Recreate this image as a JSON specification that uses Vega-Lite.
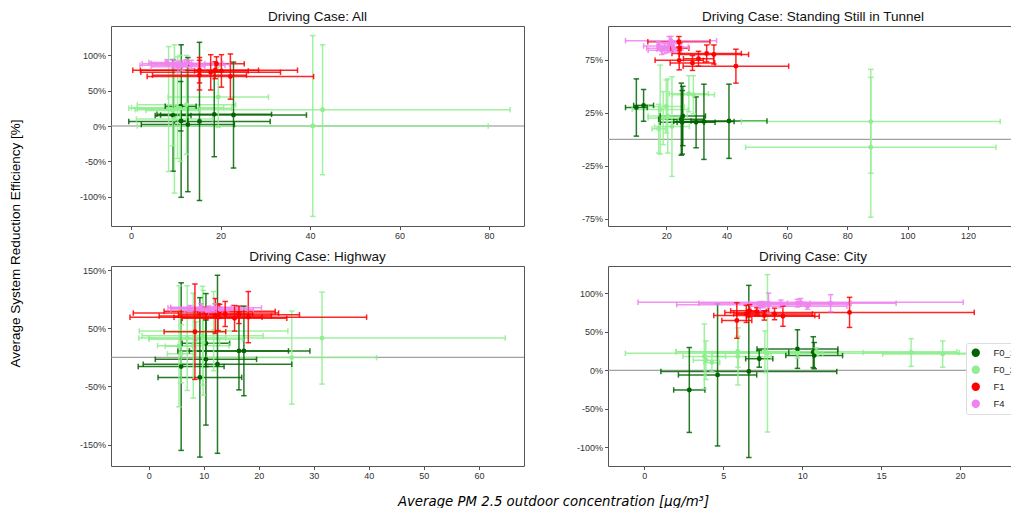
{
"$schema": "https://vega.github.io/schema/vega-lite/v6.json",
"autosize": {"type": "pad"},
"padding": {"left": 8, "top": 9, "right": -10, "bottom": 0},
"background": "white",
"datasets": {"pts": [
{"p":"All","g":"F0_1","x":15.3,"xlo":-0.5,"xhi":31.1,"y":0.065,"ylo":-1.055,"yhi":1.185},
{"p":"All","g":"F0_1","x":22.9,"xlo":6.6,"xhi":39.2,"y":0.155,"ylo":-0.595,"yhi":0.905},
{"p":"All","g":"F0_1","x":18.6,"xlo":5.8,"xhi":31.4,"y":0.165,"ylo":-0.435,"yhi":0.765},
{"p":"All","g":"F0_1","x":12.7,"xlo":2.3,"xhi":23.1,"y":0.02,"ylo":-0.93,"yhi":0.97},
{"p":"All","g":"F0_1","x":11.2,"xlo":9.7,"xhi":12.7,"y":0.07,"ylo":-1.01,"yhi":1.15},
{"p":"All","g":"F0_1","x":11.1,"xlo":7.65,"xhi":14.55,"y":0.28,"ylo":-0.07,"yhi":0.63},
{"p":"All","g":"F0_1","x":9.4,"xlo":5.4,"xhi":13.4,"y":0.15,"ylo":-0.64,"yhi":0.94},
{"p":"All","g":"F0_2","x":40.6,"xlo":1.4,"xhi":79.8,"y":0.0,"ylo":-1.28,"yhi":1.28},
{"p":"All","g":"F0_2","x":42.8,"xlo":0.9,"xhi":84.7,"y":0.23,"ylo":-0.69,"yhi":1.15},
{"p":"All","g":"F0_2","x":19.5,"xlo":8.3,"xhi":30.7,"y":0.41,"ylo":-0.02,"yhi":0.84},
{"p":"All","g":"F0_2","x":8.4,"xlo":1.4,"xhi":15.4,"y":0.24,"ylo":-0.645,"yhi":1.125},
{"p":"All","g":"F0_2","x":9.7,"xlo":1.2,"xhi":18.2,"y":0.1,"ylo":-0.95,"yhi":1.15},
{"p":"All","g":"F0_2","x":10.4,"xlo":0.1,"xhi":20.7,"y":0.26,"ylo":-0.46,"yhi":0.98},
{"p":"All","g":"F0_2","x":11.0,"xlo":-0.5,"xhi":22.5,"y":0.25,"ylo":-0.5,"yhi":1.0},
{"p":"All","g":"F0_2","x":12.4,"xlo":1.4,"xhi":23.4,"y":0.3,"ylo":-0.4,"yhi":1.0},
{"p":"All","g":"F0_2","x":9.3,"xlo":3.3,"xhi":15.3,"y":0.22,"ylo":-0.28,"yhi":0.72},
{"p":"All","g":"F1","x":15.3,"xlo":2.1,"xhi":28.5,"y":0.79,"ylo":0.61,"yhi":0.97},
{"p":"All","g":"F1","x":15.3,"xlo":4.8,"xhi":25.8,"y":0.72,"ylo":0.51,"yhi":0.93},
{"p":"All","g":"F1","x":17.8,"xlo":2.2,"xhi":33.4,"y":0.76,"ylo":0.51,"yhi":1.01},
{"p":"All","g":"F1","x":18.8,"xlo":0.4,"xhi":37.2,"y":0.79,"ylo":0.67,"yhi":0.91},
{"p":"All","g":"F1","x":20.2,"xlo":14.2,"xhi":26.2,"y":0.78,"ylo":0.55,"yhi":1.01},
{"p":"All","g":"F1","x":22.2,"xlo":3.6,"xhi":40.8,"y":0.7,"ylo":0.38,"yhi":1.02},
{"p":"All","g":"F1","x":19.1,"xlo":12.9,"xhi":25.3,"y":0.88,"ylo":0.78,"yhi":0.98},
{"p":"All","g":"F4","x":9.5,"xlo":2.5,"xhi":16.5,"y":0.88,"ylo":0.82,"yhi":0.94},
{"p":"All","g":"F4","x":11.5,"xlo":2.0,"xhi":21.0,"y":0.86,"ylo":0.79,"yhi":0.93},
{"p":"All","g":"F4","x":12.5,"xlo":4.5,"xhi":20.5,"y":0.89,"ylo":0.84,"yhi":0.94},
{"p":"All","g":"F4","x":10.5,"xlo":4.5,"xhi":16.5,"y":0.84,"ylo":0.76,"yhi":0.92},
{"p":"All","g":"F4","x":13.5,"xlo":5.0,"xhi":22.0,"y":0.87,"ylo":0.81,"yhi":0.93},
{"p":"All","g":"F4","x":8.0,"xlo":4.0,"xhi":12.0,"y":0.9,"ylo":0.86,"yhi":0.94},
{"p":"Tunnel","g":"F0_1","x":10.1,"xlo":6.5,"xhi":13.7,"y":0.3,"ylo":0.03,"yhi":0.57},
{"p":"Tunnel","g":"F0_1","x":12.5,"xlo":9.2,"xhi":15.8,"y":0.32,"ylo":0.17,"yhi":0.47},
{"p":"Tunnel","g":"F0_1","x":25.0,"xlo":17.5,"xhi":32.5,"y":0.19,"ylo":-0.15,"yhi":0.53},
{"p":"Tunnel","g":"F0_1","x":25.3,"xlo":18.0,"xhi":32.6,"y":0.16,"ylo":-0.14,"yhi":0.46},
{"p":"Tunnel","g":"F0_1","x":25.5,"xlo":18.0,"xhi":33.0,"y":0.22,"ylo":-0.06,"yhi":0.5},
{"p":"Tunnel","g":"F0_1","x":29.9,"xlo":23.6,"xhi":36.2,"y":0.16,"ylo":-0.08,"yhi":0.4},
{"p":"Tunnel","g":"F0_1","x":32.5,"xlo":22.5,"xhi":42.5,"y":0.167,"ylo":-0.19,"yhi":0.52},
{"p":"Tunnel","g":"F0_1","x":40.8,"xlo":28.2,"xhi":53.4,"y":0.173,"ylo":-0.18,"yhi":0.52},
{"p":"Tunnel","g":"F0_2","x":87.8,"xlo":44.9,"xhi":130.7,"y":0.167,"ylo":-0.32,"yhi":0.66},
{"p":"Tunnel","g":"F0_2","x":87.8,"xlo":46.3,"xhi":129.3,"y":-0.075,"ylo":-0.735,"yhi":0.585},
{"p":"Tunnel","g":"F0_2","x":18.0,"xlo":8.7,"xhi":27.3,"y":0.28,"ylo":-0.14,"yhi":0.7},
{"p":"Tunnel","g":"F0_2","x":20.0,"xlo":14.0,"xhi":26.0,"y":0.31,"ylo":0.06,"yhi":0.56},
{"p":"Tunnel","g":"F0_2","x":21.9,"xlo":16.1,"xhi":27.7,"y":0.12,"ylo":-0.35,"yhi":0.59},
{"p":"Tunnel","g":"F0_2","x":17.5,"xlo":15.3,"xhi":19.7,"y":0.1,"ylo":-0.13,"yhi":0.33},
{"p":"Tunnel","g":"F0_2","x":27.5,"xlo":21.0,"xhi":34.0,"y":0.43,"ylo":0.26,"yhi":0.6},
{"p":"Tunnel","g":"F0_2","x":29.0,"xlo":22.0,"xhi":36.0,"y":0.42,"ylo":0.24,"yhi":0.6},
{"p":"Tunnel","g":"F0_2","x":19.0,"xlo":14.0,"xhi":24.0,"y":0.2,"ylo":-0.05,"yhi":0.45},
{"p":"Tunnel","g":"F0_2","x":20.5,"xlo":14.0,"xhi":27.0,"y":0.22,"ylo":-0.13,"yhi":0.57},
{"p":"Tunnel","g":"F1","x":43.1,"xlo":25.6,"xhi":60.6,"y":0.69,"ylo":0.53,"yhi":0.85},
{"p":"Tunnel","g":"F1","x":24.3,"xlo":16.3,"xhi":32.3,"y":0.745,"ylo":0.655,"yhi":0.835},
{"p":"Tunnel","g":"F1","x":28.7,"xlo":21.3,"xhi":36.1,"y":0.72,"ylo":0.65,"yhi":0.79},
{"p":"Tunnel","g":"F1","x":30.7,"xlo":25.7,"xhi":35.7,"y":0.76,"ylo":0.69,"yhi":0.83},
{"p":"Tunnel","g":"F1","x":33.4,"xlo":21.9,"xhi":44.9,"y":0.81,"ylo":0.73,"yhi":0.89},
{"p":"Tunnel","g":"F1","x":35.8,"xlo":24.3,"xhi":47.3,"y":0.8,"ylo":0.71,"yhi":0.89},
{"p":"Tunnel","g":"F1","x":24.2,"xlo":13.9,"xhi":34.5,"y":0.92,"ylo":0.87,"yhi":0.97},
{"p":"Tunnel","g":"F1","x":24.5,"xlo":21.5,"xhi":27.5,"y":0.86,"ylo":0.81,"yhi":0.91},
{"p":"Tunnel","g":"F4","x":21.6,"xlo":6.5,"xhi":36.7,"y":0.93,"ylo":0.89,"yhi":0.97},
{"p":"Tunnel","g":"F4","x":17.5,"xlo":12.5,"xhi":22.5,"y":0.88,"ylo":0.84,"yhi":0.92},
{"p":"Tunnel","g":"F4","x":19.5,"xlo":13.5,"xhi":25.5,"y":0.86,"ylo":0.81,"yhi":0.91},
{"p":"Tunnel","g":"F4","x":21.0,"xlo":17.0,"xhi":25.0,"y":0.9,"ylo":0.83,"yhi":0.97},
{"p":"Tunnel","g":"F4","x":18.5,"xlo":14.0,"xhi":23.0,"y":0.84,"ylo":0.8,"yhi":0.88},
{"p":"Tunnel","g":"F4","x":20.5,"xlo":17.0,"xhi":24.0,"y":0.85,"ylo":0.82,"yhi":0.88},
{"p":"Tunnel","g":"F4","x":22.3,"xlo":17.3,"xhi":27.3,"y":0.87,"ylo":0.82,"yhi":0.92},
{"p":"Highway","g":"F0_1","x":5.9,"xlo":-1.9,"xhi":13.7,"y":-0.16,"ylo":-1.6,"yhi":1.28},
{"p":"Highway","g":"F0_1","x":9.3,"xlo":1.7,"xhi":16.9,"y":-0.345,"ylo":-1.715,"yhi":1.025},
{"p":"Highway","g":"F0_1","x":10.4,"xlo":6.1,"xhi":14.7,"y":0.24,"ylo":-0.16,"yhi":0.64},
{"p":"Highway","g":"F0_1","x":10.4,"xlo":1.2,"xhi":19.6,"y":-0.035,"ylo":-1.165,"yhi":1.095},
{"p":"Highway","g":"F0_1","x":12.5,"xlo":-1.0,"xhi":26.0,"y":-0.12,"ylo":-1.65,"yhi":1.41},
{"p":"Highway","g":"F0_1","x":16.4,"xlo":7.4,"xhi":25.4,"y":0.11,"ylo":-0.56,"yhi":0.78},
{"p":"Highway","g":"F0_1","x":17.3,"xlo":5.3,"xhi":29.3,"y":0.11,"ylo":-0.66,"yhi":0.88},
{"p":"Highway","g":"F0_2","x":31.5,"xlo":-1.8,"xhi":64.8,"y":0.33,"ylo":-0.46,"yhi":1.12},
{"p":"Highway","g":"F0_2","x":26.0,"xlo":10.6,"xhi":41.4,"y":-0.005,"ylo":-0.805,"yhi":0.795},
{"p":"Highway","g":"F0_2","x":11.8,"xlo":-1.7,"xhi":25.3,"y":0.45,"ylo":-0.23,"yhi":1.13},
{"p":"Highway","g":"F0_2","x":9.8,"xlo":-1.2,"xhi":20.8,"y":0.37,"ylo":-0.48,"yhi":1.22},
{"p":"Highway","g":"F0_2","x":7.0,"xlo":0.0,"xhi":14.0,"y":0.33,"ylo":-0.57,"yhi":1.23},
{"p":"Highway","g":"F0_2","x":8.1,"xlo":1.6,"xhi":14.6,"y":0.2,"ylo":-0.7,"yhi":1.1},
{"p":"Highway","g":"F0_2","x":5.5,"xlo":3.0,"xhi":8.0,"y":0.19,"ylo":-0.85,"yhi":1.23},
{"p":"Highway","g":"F0_2","x":8.6,"xlo":0.1,"xhi":17.1,"y":0.31,"ylo":0.01,"yhi":0.61},
{"p":"Highway","g":"F0_2","x":5.9,"xlo":3.4,"xhi":8.4,"y":0.06,"ylo":-0.44,"yhi":0.56},
{"p":"Highway","g":"F0_2","x":9.9,"xlo":6.9,"xhi":12.9,"y":0.25,"ylo":-0.65,"yhi":1.15},
{"p":"Highway","g":"F1","x":8.4,"xlo":2.8,"xhi":14.0,"y":0.44,"ylo":-0.38,"yhi":1.26},
{"p":"Highway","g":"F1","x":18.1,"xlo":-3.4,"xhi":39.6,"y":0.69,"ylo":0.25,"yhi":1.13},
{"p":"Highway","g":"F1","x":10.4,"xlo":-2.8,"xhi":23.6,"y":0.76,"ylo":0.66,"yhi":0.86},
{"p":"Highway","g":"F1","x":12.1,"xlo":1.9,"xhi":22.3,"y":0.71,"ylo":0.41,"yhi":1.01},
{"p":"Highway","g":"F1","x":12.6,"xlo":4.6,"xhi":20.6,"y":0.69,"ylo":0.46,"yhi":0.92},
{"p":"Highway","g":"F1","x":13.9,"xlo":8.9,"xhi":18.9,"y":0.745,"ylo":0.53,"yhi":0.96},
{"p":"Highway","g":"F1","x":15.6,"xlo":6.1,"xhi":25.1,"y":0.67,"ylo":0.45,"yhi":0.89},
{"p":"Highway","g":"F1","x":16.4,"xlo":5.4,"xhi":27.4,"y":0.73,"ylo":0.58,"yhi":0.88},
{"p":"Highway","g":"F1","x":12.9,"xlo":2.8,"xhi":23.0,"y":0.79,"ylo":0.67,"yhi":0.91},
{"p":"Highway","g":"F4","x":7.5,"xlo":4.0,"xhi":11.0,"y":0.84,"ylo":0.79,"yhi":0.89},
{"p":"Highway","g":"F4","x":9.5,"xlo":4.0,"xhi":15.0,"y":0.86,"ylo":0.8,"yhi":0.92},
{"p":"Highway","g":"F4","x":11.0,"xlo":4.0,"xhi":18.0,"y":0.83,"ylo":0.78,"yhi":0.88},
{"p":"Highway","g":"F4","x":12.0,"xlo":3.5,"xhi":20.5,"y":0.85,"ylo":0.78,"yhi":0.92},
{"p":"Highway","g":"F4","x":13.0,"xlo":7.0,"xhi":19.0,"y":0.82,"ylo":0.78,"yhi":0.86},
{"p":"Highway","g":"F4","x":10.5,"xlo":6.5,"xhi":14.5,"y":0.8,"ylo":0.75,"yhi":0.85},
{"p":"City","g":"F0_1","x":2.85,"xlo":1.86,"xhi":3.84,"y":-0.255,"ylo":-0.805,"yhi":0.295},
{"p":"City","g":"F0_1","x":4.64,"xlo":2.16,"xhi":7.12,"y":-0.06,"ylo":-0.98,"yhi":0.86},
{"p":"City","g":"F0_1","x":6.62,"xlo":1.05,"xhi":12.19,"y":-0.015,"ylo":-1.13,"yhi":1.1},
{"p":"City","g":"F0_1","x":7.28,"xlo":6.42,"xhi":8.14,"y":0.15,"ylo":0.04,"yhi":0.26},
{"p":"City","g":"F0_1","x":9.7,"xlo":7.14,"xhi":12.26,"y":0.275,"ylo":0.025,"yhi":0.525},
{"p":"City","g":"F0_1","x":10.7,"xlo":9.15,"xhi":12.25,"y":0.235,"ylo":0.035,"yhi":0.435},
{"p":"City","g":"F0_1","x":10.76,"xlo":8.96,"xhi":12.56,"y":0.19,"ylo":0.02,"yhi":0.36},
{"p":"City","g":"F0_2","x":16.9,"xlo":13.85,"xhi":19.95,"y":0.23,"ylo":0.05,"yhi":0.41},
{"p":"City","g":"F0_2","x":18.9,"xlo":15.1,"xhi":22.7,"y":0.21,"ylo":0.04,"yhi":0.38},
{"p":"City","g":"F0_2","x":7.8,"xlo":4.3,"xhi":11.3,"y":0.22,"ylo":-0.8,"yhi":1.24},
{"p":"City","g":"F0_2","x":3.8,"xlo":2.45,"xhi":5.15,"y":0.18,"ylo":-0.24,"yhi":0.6},
{"p":"City","g":"F0_2","x":3.9,"xlo":3.1,"xhi":4.7,"y":0.13,"ylo":-0.12,"yhi":0.38},
{"p":"City","g":"F0_2","x":4.28,"xlo":3.78,"xhi":4.78,"y":0.1,"ylo":-0.02,"yhi":0.22},
{"p":"City","g":"F0_2","x":5.93,"xlo":3.83,"xhi":8.03,"y":0.18,"ylo":-0.19,"yhi":0.55},
{"p":"City","g":"F0_2","x":5.93,"xlo":2.03,"xhi":9.83,"y":0.24,"ylo":0.04,"yhi":0.44},
{"p":"City","g":"F0_2","x":7.64,"xlo":5.84,"xhi":9.44,"y":0.24,"ylo":-0.03,"yhi":0.51},
{"p":"City","g":"F0_2","x":9.7,"xlo":-1.2,"xhi":20.6,"y":0.22,"ylo":0.16,"yhi":0.28},
{"p":"City","g":"F0_2","x":10.9,"xlo":2.0,"xhi":19.8,"y":0.24,"ylo":0.19,"yhi":0.29},
{"p":"City","g":"F1","x":5.86,"xlo":4.91,"xhi":6.81,"y":0.645,"ylo":0.415,"yhi":0.875},
{"p":"City","g":"F1","x":6.46,"xlo":5.66,"xhi":7.26,"y":0.73,"ylo":0.62,"yhi":0.84},
{"p":"City","g":"F1","x":6.67,"xlo":5.47,"xhi":7.87,"y":0.77,"ylo":0.69,"yhi":0.85},
{"p":"City","g":"F1","x":7.13,"xlo":6.53,"xhi":7.73,"y":0.76,"ylo":0.71,"yhi":0.81},
{"p":"City","g":"F1","x":8.25,"xlo":5.85,"xhi":10.65,"y":0.73,"ylo":0.655,"yhi":0.805},
{"p":"City","g":"F1","x":8.78,"xlo":6.48,"xhi":11.08,"y":0.7,"ylo":0.57,"yhi":0.83},
{"p":"City","g":"F1","x":13.0,"xlo":5.1,"xhi":20.9,"y":0.75,"ylo":0.555,"yhi":0.945},
{"p":"City","g":"F1","x":7.6,"xlo":4.4,"xhi":10.8,"y":0.71,"ylo":0.65,"yhi":0.77},
{"p":"City","g":"F4","x":9.9,"xlo":-0.4,"xhi":20.2,"y":0.88,"ylo":0.83,"yhi":0.93},
{"p":"City","g":"F4","x":9.7,"xlo":3.45,"xhi":15.95,"y":0.87,"ylo":0.82,"yhi":0.92},
{"p":"City","g":"F4","x":11.8,"xlo":10.5,"xhi":13.1,"y":0.87,"ylo":0.76,"yhi":0.98},
{"p":"City","g":"F4","x":7.87,"xlo":6.67,"xhi":9.07,"y":0.87,"ylo":0.74,"yhi":1.0},
{"p":"City","g":"F4","x":7.34,"xlo":6.74,"xhi":7.94,"y":0.83,"ylo":0.77,"yhi":0.89},
{"p":"City","g":"F4","x":8.65,"xlo":7.15,"xhi":10.15,"y":0.86,"ylo":0.81,"yhi":0.91},
{"p":"City","g":"F4","x":10.34,"xlo":7.84,"xhi":12.84,"y":0.83,"ylo":0.79,"yhi":0.87},
{"p":"City","g":"F4","x":7.55,"xlo":2.05,"xhi":13.05,"y":0.85,"ylo":0.81,"yhi":0.89}
]},
"bounds": "flush",
"columns": 2,
"spacing": {"row": 40, "column": 84},
"concat": [
{"width": 413, "height": 200, "title": "Driving Case: All",
 "layer": [
  {"data": {"values": [{}]}, "mark": {"type": "rule", "color": "#8a8a8a", "strokeWidth": 1},
   "encoding": {
    "x": {"datum": -4.47, "type": "quantitative", "scale": {"domain": [-4.47, 87.8], "nice": false, "zero": false}, "axis": {"title": null, "values": [0, 20, 40, 60, 80]}},
    "x2": {"datum": 87.8},
    "y": {"datum": 0, "type": "quantitative", "scale": {"domain": [-1.416, 1.416], "nice": false, "zero": false}, "axis": {"title": "Average System Reduction Efficiency [%]", "values": [-1, -0.5, 0, 0.5, 1], "labelExpr": "(datum.value < 0 ? '-' : '') + format(abs(datum.value), '.0%')", "titleX": -91.5, "titleY": 217, "titleAngle": 270, "titleAlign": "center", "titleBaseline": "alphabetic", "titleFont": "Liberation Sans", "titleFontWeight": "normal", "titleFontSize": 13.5, "titleColor": "#000000"}}
   }},
  {"data": {"name": "pts"}, "transform": [{"filter": "datum.p === 'All' && (datum.g === 'F0_1' || datum.g === 'F0_2')"}],
   "layer": [
{"mark":{"type":"rule","strokeWidth":1.5,"opacity":0.85},"encoding":{"x":{"field":"xlo","type":"quantitative"},"x2":{"field":"xhi"},"y":{"field":"y","type":"quantitative"},"stroke":{"field":"g","type":"nominal","legend":null}}},
{"mark":{"type":"rule","strokeWidth":1.5,"opacity":0.85},"encoding":{"x":{"field":"x","type":"quantitative"},"y":{"field":"ylo","type":"quantitative"},"y2":{"field":"yhi"},"stroke":{"field":"g","type":"nominal","legend":null}}},
{"mark":{"type":"tick","orient":"vertical","size":5.5,"thickness":1.5,"opacity":0.85},"encoding":{"x":{"field":"xlo","type":"quantitative"},"y":{"field":"y","type":"quantitative"},"fill":{"field":"g","type":"nominal","legend":null}}},
{"mark":{"type":"tick","orient":"vertical","size":5.5,"thickness":1.5,"opacity":0.85},"encoding":{"x":{"field":"xhi","type":"quantitative"},"y":{"field":"y","type":"quantitative"},"fill":{"field":"g","type":"nominal","legend":null}}},
{"mark":{"type":"tick","orient":"horizontal","size":5.5,"thickness":1.5,"opacity":0.85},"encoding":{"x":{"field":"x","type":"quantitative"},"y":{"field":"ylo","type":"quantitative"},"fill":{"field":"g","type":"nominal","legend":null}}},
{"mark":{"type":"tick","orient":"horizontal","size":5.5,"thickness":1.5,"opacity":0.85},"encoding":{"x":{"field":"x","type":"quantitative"},"y":{"field":"yhi","type":"quantitative"},"fill":{"field":"g","type":"nominal","legend":null}}},
{"mark":{"type":"point","filled":true,"size":24,"opacity":1,"strokeWidth":0},"encoding":{"x":{"field":"x","type":"quantitative"},"y":{"field":"y","type":"quantitative"},"color":{"field":"g","type":"nominal","legend":{"title":null,"orient":"none","legendX":855,"legendY":317}}}}
   ]},
  {"data": {"name": "pts"}, "transform": [{"filter": "datum.p === 'All' && (datum.g === 'F1' || datum.g === 'F4')"}],
   "layer": [
{"mark":{"type":"rule","strokeWidth":1.5,"opacity":0.85},"encoding":{"x":{"field":"xlo","type":"quantitative"},"x2":{"field":"xhi"},"y":{"field":"y","type":"quantitative"},"stroke":{"field":"g","type":"nominal","legend":null}}},
{"mark":{"type":"rule","strokeWidth":1.5,"opacity":0.85},"encoding":{"x":{"field":"x","type":"quantitative"},"y":{"field":"ylo","type":"quantitative"},"y2":{"field":"yhi"},"stroke":{"field":"g","type":"nominal","legend":null}}},
{"mark":{"type":"tick","orient":"vertical","size":5.5,"thickness":1.5,"opacity":0.85},"encoding":{"x":{"field":"xlo","type":"quantitative"},"y":{"field":"y","type":"quantitative"},"fill":{"field":"g","type":"nominal","legend":null}}},
{"mark":{"type":"tick","orient":"vertical","size":5.5,"thickness":1.5,"opacity":0.85},"encoding":{"x":{"field":"xhi","type":"quantitative"},"y":{"field":"y","type":"quantitative"},"fill":{"field":"g","type":"nominal","legend":null}}},
{"mark":{"type":"tick","orient":"horizontal","size":5.5,"thickness":1.5,"opacity":0.85},"encoding":{"x":{"field":"x","type":"quantitative"},"y":{"field":"ylo","type":"quantitative"},"fill":{"field":"g","type":"nominal","legend":null}}},
{"mark":{"type":"tick","orient":"horizontal","size":5.5,"thickness":1.5,"opacity":0.85},"encoding":{"x":{"field":"x","type":"quantitative"},"y":{"field":"yhi","type":"quantitative"},"fill":{"field":"g","type":"nominal","legend":null}}},
{"mark":{"type":"point","filled":true,"size":24,"opacity":1,"strokeWidth":0},"encoding":{"x":{"field":"x","type":"quantitative"},"y":{"field":"y","type":"quantitative"},"color":{"field":"g","type":"nominal","legend":{"title":null,"orient":"none","legendX":855,"legendY":317}}}}
   ]}
 ]},
{"width": 410, "height": 200, "title": "Driving Case: Standing Still in Tunnel",
 "layer": [
  {"data": {"values": [{}]}, "mark": {"type": "rule", "color": "#8a8a8a", "strokeWidth": 1},
   "encoding": {
    "x": {"datum": 0.7, "type": "quantitative", "scale": {"domain": [0.7, 136.6], "nice": false, "zero": false}, "axis": {"title": null, "values": [20, 40, 60, 80, 100, 120]}},
    "x2": {"datum": 136.6},
    "y": {"datum": 0, "type": "quantitative", "scale": {"domain": [-0.818, 1.069], "nice": false, "zero": false}, "axis": {"title": null, "values": [-0.75, -0.5, -0.25, 0, 0.25, 0.5, 0.75, 1], "labelExpr": "(datum.value < 0 ? '-' : '') + format(abs(datum.value), '.0%')"}}
   }},
  {"data": {"name": "pts"}, "transform": [{"filter": "datum.p === 'Tunnel' && (datum.g === 'F0_1' || datum.g === 'F0_2')"}],
   "layer": [
{"mark":{"type":"rule","strokeWidth":1.5,"opacity":0.85},"encoding":{"x":{"field":"xlo","type":"quantitative"},"x2":{"field":"xhi"},"y":{"field":"y","type":"quantitative"},"stroke":{"field":"g","type":"nominal","legend":null}}},
{"mark":{"type":"rule","strokeWidth":1.5,"opacity":0.85},"encoding":{"x":{"field":"x","type":"quantitative"},"y":{"field":"ylo","type":"quantitative"},"y2":{"field":"yhi"},"stroke":{"field":"g","type":"nominal","legend":null}}},
{"mark":{"type":"tick","orient":"vertical","size":5.5,"thickness":1.5,"opacity":0.85},"encoding":{"x":{"field":"xlo","type":"quantitative"},"y":{"field":"y","type":"quantitative"},"fill":{"field":"g","type":"nominal","legend":null}}},
{"mark":{"type":"tick","orient":"vertical","size":5.5,"thickness":1.5,"opacity":0.85},"encoding":{"x":{"field":"xhi","type":"quantitative"},"y":{"field":"y","type":"quantitative"},"fill":{"field":"g","type":"nominal","legend":null}}},
{"mark":{"type":"tick","orient":"horizontal","size":5.5,"thickness":1.5,"opacity":0.85},"encoding":{"x":{"field":"x","type":"quantitative"},"y":{"field":"ylo","type":"quantitative"},"fill":{"field":"g","type":"nominal","legend":null}}},
{"mark":{"type":"tick","orient":"horizontal","size":5.5,"thickness":1.5,"opacity":0.85},"encoding":{"x":{"field":"x","type":"quantitative"},"y":{"field":"yhi","type":"quantitative"},"fill":{"field":"g","type":"nominal","legend":null}}},
{"mark":{"type":"point","filled":true,"size":24,"opacity":1,"strokeWidth":0},"encoding":{"x":{"field":"x","type":"quantitative"},"y":{"field":"y","type":"quantitative"},"color":{"field":"g","type":"nominal","legend":{"title":null,"orient":"none","legendX":855,"legendY":317}}}}
   ]},
  {"data": {"name": "pts"}, "transform": [{"filter": "datum.p === 'Tunnel' && (datum.g === 'F1' || datum.g === 'F4')"}],
   "layer": [
{"mark":{"type":"rule","strokeWidth":1.5,"opacity":0.85},"encoding":{"x":{"field":"xlo","type":"quantitative"},"x2":{"field":"xhi"},"y":{"field":"y","type":"quantitative"},"stroke":{"field":"g","type":"nominal","legend":null}}},
{"mark":{"type":"rule","strokeWidth":1.5,"opacity":0.85},"encoding":{"x":{"field":"x","type":"quantitative"},"y":{"field":"ylo","type":"quantitative"},"y2":{"field":"yhi"},"stroke":{"field":"g","type":"nominal","legend":null}}},
{"mark":{"type":"tick","orient":"vertical","size":5.5,"thickness":1.5,"opacity":0.85},"encoding":{"x":{"field":"xlo","type":"quantitative"},"y":{"field":"y","type":"quantitative"},"fill":{"field":"g","type":"nominal","legend":null}}},
{"mark":{"type":"tick","orient":"vertical","size":5.5,"thickness":1.5,"opacity":0.85},"encoding":{"x":{"field":"xhi","type":"quantitative"},"y":{"field":"y","type":"quantitative"},"fill":{"field":"g","type":"nominal","legend":null}}},
{"mark":{"type":"tick","orient":"horizontal","size":5.5,"thickness":1.5,"opacity":0.85},"encoding":{"x":{"field":"x","type":"quantitative"},"y":{"field":"ylo","type":"quantitative"},"fill":{"field":"g","type":"nominal","legend":null}}},
{"mark":{"type":"tick","orient":"horizontal","size":5.5,"thickness":1.5,"opacity":0.85},"encoding":{"x":{"field":"x","type":"quantitative"},"y":{"field":"yhi","type":"quantitative"},"fill":{"field":"g","type":"nominal","legend":null}}},
{"mark":{"type":"point","filled":true,"size":24,"opacity":1,"strokeWidth":0},"encoding":{"x":{"field":"x","type":"quantitative"},"y":{"field":"y","type":"quantitative"},"color":{"field":"g","type":"nominal","legend":{"title":null,"orient":"none","legendX":855,"legendY":317}}}}
   ]}
 ]},
{"width": 413, "height": 200, "title": "Driving Case: Highway",
 "layer": [
  {"data": {"values": [{}]}, "mark": {"type": "rule", "color": "#8a8a8a", "strokeWidth": 1},
   "encoding": {
    "x": {"datum": -6.85, "type": "quantitative", "scale": {"domain": [-6.85, 68.2], "nice": false, "zero": false}, "axis": {"title": "Average PM 2.5 outdoor concentration [μg/m³]", "values": [0, 10, 20, 30, 40, 50, 60], "titleX": 442, "titleY": 39, "titleAlign": "center", "titleBaseline": "alphabetic", "titleFont": "DejaVu Sans", "titleFontStyle": "italic", "titleFontWeight": "normal", "titleFontSize": 13.3, "titleColor": "#000000"}},
    "x2": {"datum": 68.2},
    "y": {"datum": 0, "type": "quantitative", "scale": {"domain": [-1.868, 1.569], "nice": false, "zero": false}, "axis": {"title": null, "values": [-1.5, -1, -0.5, 0, 0.5, 1, 1.5], "labelExpr": "(datum.value < 0 ? '-' : '') + format(abs(datum.value), '.0%')"}}
   }},
  {"data": {"name": "pts"}, "transform": [{"filter": "datum.p === 'Highway' && (datum.g === 'F0_1' || datum.g === 'F0_2')"}],
   "layer": [
{"mark":{"type":"rule","strokeWidth":1.5,"opacity":0.85},"encoding":{"x":{"field":"xlo","type":"quantitative"},"x2":{"field":"xhi"},"y":{"field":"y","type":"quantitative"},"stroke":{"field":"g","type":"nominal","legend":null}}},
{"mark":{"type":"rule","strokeWidth":1.5,"opacity":0.85},"encoding":{"x":{"field":"x","type":"quantitative"},"y":{"field":"ylo","type":"quantitative"},"y2":{"field":"yhi"},"stroke":{"field":"g","type":"nominal","legend":null}}},
{"mark":{"type":"tick","orient":"vertical","size":5.5,"thickness":1.5,"opacity":0.85},"encoding":{"x":{"field":"xlo","type":"quantitative"},"y":{"field":"y","type":"quantitative"},"fill":{"field":"g","type":"nominal","legend":null}}},
{"mark":{"type":"tick","orient":"vertical","size":5.5,"thickness":1.5,"opacity":0.85},"encoding":{"x":{"field":"xhi","type":"quantitative"},"y":{"field":"y","type":"quantitative"},"fill":{"field":"g","type":"nominal","legend":null}}},
{"mark":{"type":"tick","orient":"horizontal","size":5.5,"thickness":1.5,"opacity":0.85},"encoding":{"x":{"field":"x","type":"quantitative"},"y":{"field":"ylo","type":"quantitative"},"fill":{"field":"g","type":"nominal","legend":null}}},
{"mark":{"type":"tick","orient":"horizontal","size":5.5,"thickness":1.5,"opacity":0.85},"encoding":{"x":{"field":"x","type":"quantitative"},"y":{"field":"yhi","type":"quantitative"},"fill":{"field":"g","type":"nominal","legend":null}}},
{"mark":{"type":"point","filled":true,"size":24,"opacity":1,"strokeWidth":0},"encoding":{"x":{"field":"x","type":"quantitative"},"y":{"field":"y","type":"quantitative"},"color":{"field":"g","type":"nominal","legend":{"title":null,"orient":"none","legendX":855,"legendY":317}}}}
   ]},
  {"data": {"name": "pts"}, "transform": [{"filter": "datum.p === 'Highway' && (datum.g === 'F1' || datum.g === 'F4')"}],
   "layer": [
{"mark":{"type":"rule","strokeWidth":1.5,"opacity":0.85},"encoding":{"x":{"field":"xlo","type":"quantitative"},"x2":{"field":"xhi"},"y":{"field":"y","type":"quantitative"},"stroke":{"field":"g","type":"nominal","legend":null}}},
{"mark":{"type":"rule","strokeWidth":1.5,"opacity":0.85},"encoding":{"x":{"field":"x","type":"quantitative"},"y":{"field":"ylo","type":"quantitative"},"y2":{"field":"yhi"},"stroke":{"field":"g","type":"nominal","legend":null}}},
{"mark":{"type":"tick","orient":"vertical","size":5.5,"thickness":1.5,"opacity":0.85},"encoding":{"x":{"field":"xlo","type":"quantitative"},"y":{"field":"y","type":"quantitative"},"fill":{"field":"g","type":"nominal","legend":null}}},
{"mark":{"type":"tick","orient":"vertical","size":5.5,"thickness":1.5,"opacity":0.85},"encoding":{"x":{"field":"xhi","type":"quantitative"},"y":{"field":"y","type":"quantitative"},"fill":{"field":"g","type":"nominal","legend":null}}},
{"mark":{"type":"tick","orient":"horizontal","size":5.5,"thickness":1.5,"opacity":0.85},"encoding":{"x":{"field":"x","type":"quantitative"},"y":{"field":"ylo","type":"quantitative"},"fill":{"field":"g","type":"nominal","legend":null}}},
{"mark":{"type":"tick","orient":"horizontal","size":5.5,"thickness":1.5,"opacity":0.85},"encoding":{"x":{"field":"x","type":"quantitative"},"y":{"field":"yhi","type":"quantitative"},"fill":{"field":"g","type":"nominal","legend":null}}},
{"mark":{"type":"point","filled":true,"size":24,"opacity":1,"strokeWidth":0},"encoding":{"x":{"field":"x","type":"quantitative"},"y":{"field":"y","type":"quantitative"},"color":{"field":"g","type":"nominal","legend":{"title":null,"orient":"none","legendX":855,"legendY":317}}}}
   ]}
 ]},
{"width": 410, "height": 200, "title": "Driving Case: City",
 "layer": [
  {"data": {"values": [{}]}, "mark": {"type": "rule", "color": "#8a8a8a", "strokeWidth": 1},
   "encoding": {
    "x": {"datum": -2.3, "type": "quantitative", "scale": {"domain": [-2.3, 23.67], "nice": false, "zero": false}, "axis": {"title": null, "values": [0, 5, 10, 15, 20]}},
    "x2": {"datum": 23.67},
    "y": {"datum": 0, "type": "quantitative", "scale": {"domain": [-1.24, 1.351], "nice": false, "zero": false}, "axis": {"title": null, "values": [-1, -0.5, 0, 0.5, 1], "labelExpr": "(datum.value < 0 ? '-' : '') + format(abs(datum.value), '.0%')"}}
   }},
  {"data": {"name": "pts"}, "transform": [{"filter": "datum.p === 'City' && (datum.g === 'F0_1' || datum.g === 'F0_2')"}],
   "layer": [
{"mark":{"type":"rule","strokeWidth":1.5,"opacity":0.85},"encoding":{"x":{"field":"xlo","type":"quantitative"},"x2":{"field":"xhi"},"y":{"field":"y","type":"quantitative"},"stroke":{"field":"g","type":"nominal","legend":null}}},
{"mark":{"type":"rule","strokeWidth":1.5,"opacity":0.85},"encoding":{"x":{"field":"x","type":"quantitative"},"y":{"field":"ylo","type":"quantitative"},"y2":{"field":"yhi"},"stroke":{"field":"g","type":"nominal","legend":null}}},
{"mark":{"type":"tick","orient":"vertical","size":5.5,"thickness":1.5,"opacity":0.85},"encoding":{"x":{"field":"xlo","type":"quantitative"},"y":{"field":"y","type":"quantitative"},"fill":{"field":"g","type":"nominal","legend":null}}},
{"mark":{"type":"tick","orient":"vertical","size":5.5,"thickness":1.5,"opacity":0.85},"encoding":{"x":{"field":"xhi","type":"quantitative"},"y":{"field":"y","type":"quantitative"},"fill":{"field":"g","type":"nominal","legend":null}}},
{"mark":{"type":"tick","orient":"horizontal","size":5.5,"thickness":1.5,"opacity":0.85},"encoding":{"x":{"field":"x","type":"quantitative"},"y":{"field":"ylo","type":"quantitative"},"fill":{"field":"g","type":"nominal","legend":null}}},
{"mark":{"type":"tick","orient":"horizontal","size":5.5,"thickness":1.5,"opacity":0.85},"encoding":{"x":{"field":"x","type":"quantitative"},"y":{"field":"yhi","type":"quantitative"},"fill":{"field":"g","type":"nominal","legend":null}}},
{"mark":{"type":"point","filled":true,"size":24,"opacity":1,"strokeWidth":0},"encoding":{"x":{"field":"x","type":"quantitative"},"y":{"field":"y","type":"quantitative"},"color":{"field":"g","type":"nominal","legend":{"title":null,"orient":"none","legendX":855,"legendY":317}}}}
   ]},
  {"data": {"name": "pts"}, "transform": [{"filter": "datum.p === 'City' && (datum.g === 'F1' || datum.g === 'F4')"}],
   "layer": [
{"mark":{"type":"rule","strokeWidth":1.5,"opacity":0.85},"encoding":{"x":{"field":"xlo","type":"quantitative"},"x2":{"field":"xhi"},"y":{"field":"y","type":"quantitative"},"stroke":{"field":"g","type":"nominal","legend":null}}},
{"mark":{"type":"rule","strokeWidth":1.5,"opacity":0.85},"encoding":{"x":{"field":"x","type":"quantitative"},"y":{"field":"ylo","type":"quantitative"},"y2":{"field":"yhi"},"stroke":{"field":"g","type":"nominal","legend":null}}},
{"mark":{"type":"tick","orient":"vertical","size":5.5,"thickness":1.5,"opacity":0.85},"encoding":{"x":{"field":"xlo","type":"quantitative"},"y":{"field":"y","type":"quantitative"},"fill":{"field":"g","type":"nominal","legend":null}}},
{"mark":{"type":"tick","orient":"vertical","size":5.5,"thickness":1.5,"opacity":0.85},"encoding":{"x":{"field":"xhi","type":"quantitative"},"y":{"field":"y","type":"quantitative"},"fill":{"field":"g","type":"nominal","legend":null}}},
{"mark":{"type":"tick","orient":"horizontal","size":5.5,"thickness":1.5,"opacity":0.85},"encoding":{"x":{"field":"x","type":"quantitative"},"y":{"field":"ylo","type":"quantitative"},"fill":{"field":"g","type":"nominal","legend":null}}},
{"mark":{"type":"tick","orient":"horizontal","size":5.5,"thickness":1.5,"opacity":0.85},"encoding":{"x":{"field":"x","type":"quantitative"},"y":{"field":"yhi","type":"quantitative"},"fill":{"field":"g","type":"nominal","legend":null}}},
{"mark":{"type":"point","filled":true,"size":24,"opacity":1,"strokeWidth":0},"encoding":{"x":{"field":"x","type":"quantitative"},"y":{"field":"y","type":"quantitative"},"color":{"field":"g","type":"nominal","legend":{"title":null,"orient":"none","legendX":855,"legendY":317}}}}
   ]}
 ]}
],
"config": {
 "view": {"stroke": "#555555", "strokeWidth": 1},
 "range": {"category": ["#006400", "#90ee90", "#ff0000", "#ee82ee"]},
 "axis": {"grid": false, "domain": false, "ticks": true, "tickColor": "#555555", "tickSize": 3.5, "tickWidth": 1, "labelFont": "Liberation Sans", "labelFontSize": 9, "labelColor": "#333333", "labelPadding": 2, "labelFlush": false, "labelOverlap": false},
 "title": {"font": "Liberation Sans", "fontSize": 13.5, "fontWeight": "normal", "color": "#111111", "offset": 3, "anchor": "middle"},
 "legend": {"symbolType": "circle", "symbolSize": 70, "labelFont": "Liberation Sans", "labelFontSize": 9.5, "labelColor": "#222222", "labelOffset": 13, "rowPadding": 6, "padding": 5, "fillColor": "#ffffff", "strokeColor": "#dddddd", "cornerRadius": 2, "symbolStrokeWidth": 0, "symbolOpacity": 1}
}
}
